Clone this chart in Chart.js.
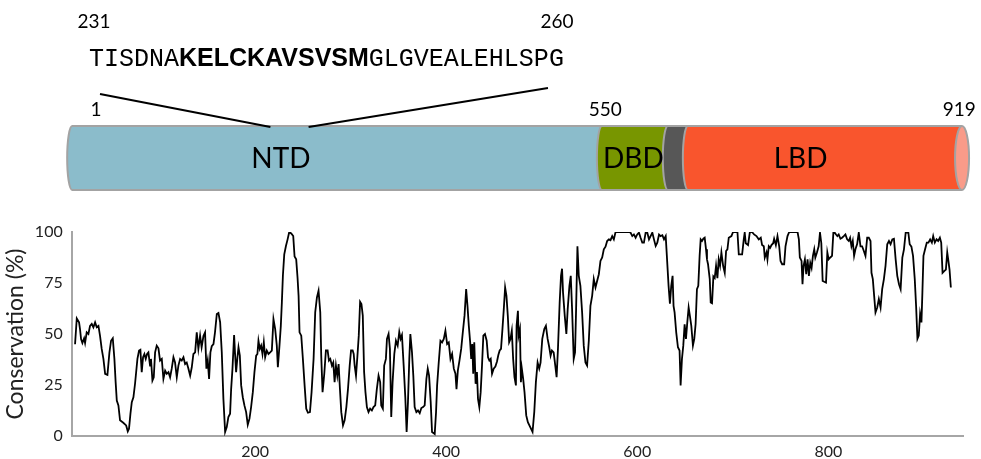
<!DOCTYPE html>
<html>
<head>
<meta charset="utf-8">
<script src="https://cdn.jsdelivr.net/npm/chart.js@4.4.1/dist/chart.umd.min.js"></script>
<style>
  html, body { margin: 0; padding: 0; background: #fff; }
  canvas { display: block; }
</style>
</head>
<body>
<canvas id="chart" width="981" height="459"></canvas>
<script>
// alignment position and conservation (%)
const position = [
  11.5, 13.3, 15.7, 16.7, 17.8, 19.2, 21, 22, 23.7, 25.5, 27.2, 29, 30.7, 32.5, 34.2, 36, 37.7, 39.4, 41.2, 43, 45.4, 47.5, 49.2, 51, 52.7, 54, 55.2, 56.9, 58.6, 62, 65, 66.7, 68, 69.5, 70.9, 72.6, 74.3, 76.8, 78.5, 79.9,
  81.3, 82.7, 84.1, 85.5, 86.9, 88.3, 90, 91, 92.5, 93.9, 95.3, 97, 98.8, 100.5, 102.3, 104, 105.8, 107.5, 109.3, 111, 112.7, 114.5, 116.2, 118, 119.7, 121.5, 123.2, 125, 126.7, 128.4, 130.2, 132, 133.7, 135.4, 137.2, 138.9, 140.6, 142.4, 144, 145.9,
  147.6, 149, 150.4, 151.8, 153.2, 154.6, 156.4, 158, 159.9, 161.6, 163.4, 165.1, 166.8, 168.6, 170.3, 172, 173.8, 174.9, 176.3, 178, 179.1, 180.1, 181.5, 182.6, 184, 185.4, 187.1, 188.8, 190.6, 192.3, 194.1, 195.8, 197.6, 199.3, 201.1, 202.4, 203.5, 204.9, 206.3, 207.7,
  209.1, 210.5, 212.2, 214, 215.7, 217.5, 219.2, 221, 222.7, 223.8, 225.5, 226.9, 228, 229.1, 230.5, 232.2, 234, 235.7, 237.8, 239.9, 241.3, 243, 244.4, 245.5, 246.5, 248.3, 250, 251.8, 253.5, 255.3, 257.4, 259.1, 261.2, 262.9, 264.7, 266.4, 268.2, 269.2, 270.6, 272.4,
  274.1, 275.9, 277.3, 278.7, 280.4, 281.8, 283.2, 284.6, 286, 287.4, 288.8, 290.2, 292, 293.7, 295.5, 297.2, 299, 300.4, 302.1, 303.2, 304.2, 305.6, 307, 308.5, 309.9, 311.3, 312.7, 314.1, 315.5, 317, 318.7, 320.4, 322.2, 323.9, 325.7, 327.4, 329.2, 330.9, 332, 333.7,
  335.1, 336.9, 338, 339.7, 341.1, 342.5, 343.9, 345.7, 347.4, 349.2, 350.9, 352.3, 353.7, 355.5, 357.2, 358.6, 360, 361.4, 362.5, 364.2, 365.6, 367, 368.8, 370.5, 372.3, 374, 375.8, 377.5, 379.3, 380.7, 382.1, 383.8, 385.2, 388, 389.4, 390.5, 392.2, 394, 395.7, 397.5,
  399.2, 401, 402.7, 404.5, 406.2, 408, 409.7, 410.8, 412.2, 413.9, 415.7, 417.4, 419.2, 420.9, 422.3, 423.7, 425.1, 426.2, 427.3, 428.3, 429.4, 430.8, 432.2, 433.3, 434.7, 436.1, 437.5, 438.9, 440.6, 442.4, 443.8, 445.2, 446.6, 448, 449.7, 451.5, 453.2, 454.6, 456, 457.4,
  458.9, 460.3, 461.7, 463.1, 464.5, 465.9, 467.3, 468.7, 470.1, 471.5, 473, 473.7, 475.1, 475.8, 477.2, 478.2, 479.2, 480.6, 482, 483.8, 485.5, 488, 490.4, 492.2, 493.9, 495.7, 497.4, 498.8, 500.6, 502.7, 504.4, 506.2, 507.9, 509.3, 510.7, 512.5, 514.2, 515.6, 517, 518.8,
  520.2, 521.3, 522.3, 524.1, 525.8, 527.2, 529, 530.4, 531.8, 533.5, 534.9, 536, 537.4, 538.8, 540.5, 542.3, 544, 545.8, 547.5, 549.3, 551, 552.8, 554.5, 556.3, 558, 559.8, 561.5, 563.3, 565, 566.8, 568.5, 570.3, 572, 573.8, 575.5, 577.3, 591.2, 593, 594.8, 596.5,
  598.3, 600, 601.8, 603.5, 605.3, 607, 608.8, 610.5, 612.3, 614, 615.8, 617.5, 619.3, 621, 622.8, 624.5, 626.3, 628, 629.8, 631, 632.8, 634.2, 635.6, 637, 638, 639.1, 640.8, 642.6, 644.3, 645.4, 646.8, 648.2, 649.6, 651, 652.4, 653.8, 655.2, 656.6, 658.3, 659.7,
  661.1, 662.5, 663.9, 665.3, 666.4, 667.8, 669.2, 670.6, 672, 673, 674.1, 675.9, 676.9, 678.3, 679.7, 681.1, 682.5, 683.9, 685.3, 686.7, 688.1, 689.9, 691.6, 693, 694.4, 695.8, 698.6, 700.3, 704.9, 706.3, 709.8, 711.5, 712.5, 713.6, 716, 717.8, 720.2, 722.3, 724.8, 727.2,
  729.3, 730.7, 732.5, 733.5, 735.3, 736.3, 737.7, 739.1, 740.5, 742.3, 743.3, 745.1, 746.8, 748.6, 750, 751.7, 753.8, 755.2, 757.3, 759.1, 767.8, 769.2, 770.2, 772, 773, 774.1, 775.5, 776.9, 778.3, 779.7, 781.1, 782.5, 783.9, 785.3, 786.4, 788.1, 789.9, 791.3, 792.7, 794.1,
  795.8, 797.6, 799, 800.4, 802.1, 803.9, 805.3, 806.7, 808.1, 809.5, 810.9, 812.7, 814.4, 816.2, 817.9, 819.7, 821.4, 822.8, 824.2, 825.6, 827, 828.4, 830.2, 831.9, 833.7, 835.4, 837.2, 838.9, 840.7, 842.4, 844.2, 845.2, 846.6, 848, 849.4, 851.2, 852.9, 854.7, 856.4, 858.2,
  859.9, 861.7, 863.5, 865.2, 867, 868.7, 870.5, 872.2, 874, 875.7, 877.5, 879.2, 881, 883.8, 885.2, 887, 888.7, 890.5, 891.9, 893.3, 894.7, 896.1, 897.5, 898.5, 899.6, 901.3, 903.1, 904.8, 906.6, 908.4, 909.8, 911.5, 913.3, 915, 916.8, 918.2, 919.6, 921.3, 923.1, 924.5,
  925.5, 926.9, 928.3
];
const conservation = [
  45, 57.6, 55.7, 52.4, 47.5, 45.6, 47.9, 45.6, 50.8, 50, 54, 55, 53.3, 55.7, 53.3, 54, 49, 42.7, 37.8, 30.5, 30, 41, 46.7, 47.9, 37.8, 26.4, 17.4, 15, 7.7, 6.5, 5.2, 2.3, 3.6, 11, 16.6, 19, 25.6, 37.8, 41.9, 42.3,
  31.3, 38.6, 40.2, 37.8, 40.2, 41, 34.5, 37.8, 27.2, 28.8, 41, 44.3, 43, 37, 37.8, 28, 32, 30.5, 31.3, 28.8, 33, 38.6, 36, 28.8, 34.5, 37.8, 37, 38.6, 35.3, 36, 33, 29.6, 33.7, 40.2, 41, 50.8, 42.7, 49.2, 43.5, 49,
  50.8, 33, 37, 28, 41, 44, 45, 50.8, 59.8, 60.3, 55.7, 41, 18.2, 2, 4.4, 9.3, 10.9, 23, 33, 49.5, 39.4, 31.3, 38.6, 43.5, 39.4, 24.8, 19, 15, 11.7, 5.5, 8.5, 14.2, 21.5, 31.3, 39.4, 40.2, 46.7, 42.7, 44.3, 40.2,
  46, 38.6, 41.9, 40.2, 41, 41.9, 57.3, 52.4, 44.3, 33.7, 44.3, 54, 65.5, 78.8, 89, 93, 96.4, 100, 99.3, 98, 88, 86.6, 77.7, 68.7, 50.8, 49.2, 37.8, 24.8, 13.4, 11.4, 11.7, 21.5, 37.8, 60.6, 67.9, 71.2, 60.6, 39.4, 21.5, 30.5,
  41.9, 41.9, 37, 37.8, 34.5, 36, 26.4, 34.5, 29.6, 35.3, 23, 11.7, 5.2, 7.7, 14.2, 23, 34.5, 41.9, 41.9, 40.2, 34.5, 29.6, 38.6, 49.2, 65.8, 64.7, 59, 31.3, 21.5, 14.2, 11.7, 13.4, 12.5, 14.2, 15, 23, 29.6, 26.4, 15, 13.4,
  34.5, 37.8, 47.6, 50, 42.7, 9.3, 26.4, 40.2, 46.7, 44.3, 51, 47.6, 49.5, 34.5, 19, 2, 16.6, 37.8, 50, 41, 29.6, 14.2, 11.7, 12.5, 11.2, 13.7, 14.2, 15, 28, 33, 29.6, 16.6, 2, 1, 11.7, 24.8, 36, 46.7, 45.9, 47.6,
  51.6, 45.1, 45.9, 37.8, 40.2, 33, 30.5, 23, 32, 37, 42.7, 50.8, 59, 72, 63.8, 54, 46, 37.8, 45.1, 30.5, 45.9, 25.6, 31.3, 18.2, 14.2, 21.5, 34.5, 49.2, 50, 46.7, 38.6, 37, 37.8, 30.5, 33, 34, 36.5, 39.7, 41.9, 42.7,
  52.4, 62.2, 72.8, 68.7, 59, 46, 47.6, 51.6, 37.8, 28.8, 24.8, 54, 61.4, 49.2, 52.4, 26.4, 33, 28, 21.5, 10.1, 6.8, 4.4, 2, 11.7, 26.4, 36, 33, 36, 47.6, 52.4, 54, 47.6, 43.5, 39.4, 41.9, 41, 34.5, 28.8, 42.7, 65.5,
  78.5, 82, 70.4, 59, 50, 62.2, 73.6, 78.5, 62.2, 37.8, 41, 62.2, 93, 78.5, 73.6, 60.6, 44.3, 36, 34.5, 46.7, 63.8, 68.7, 76.9, 72.8, 76, 79.3, 85.8, 87.5, 91.5, 92.8, 95.6, 96.4, 96, 98, 96.4, 100, 100, 99.7, 98, 98.8,
  97.2, 98.8, 99.7, 97.2, 94.8, 94.8, 99.7, 99.7, 96.4, 98, 99.7, 96.4, 93.2, 94.8, 98.8, 98, 98.4, 96.4, 98, 88.3, 73.6, 64.8, 73.6, 78.5, 63.8, 60.6, 50.8, 43.5, 41.9, 24.8, 37.8, 44.3, 54.7, 47.6, 55.7, 63, 58.6, 54, 44.3, 47.6,
  54.9, 72, 73.6, 88.3, 96.4, 95.6, 96.7, 97.2, 91.5, 86.6, 84.2, 76.9, 65.5, 65.1, 78.2, 77.4, 83.4, 77.4, 86.6, 83.4, 90, 83.4, 80, 90.7, 91.5, 97.2, 98, 100, 100, 89, 89, 96.4, 99.7, 94.5, 93.6, 99.7, 100, 98.8, 98, 96.4,
  97.2, 93.6, 93, 87.5, 90, 86.6, 93, 92.2, 93.6, 94.5, 96.7, 93.6, 98, 93, 85.8, 84.2, 84.2, 93, 98, 100, 100, 96.4, 87.5, 85.8, 74.4, 83.4, 86.6, 79.3, 86.6, 78.5, 84.9, 82.4, 88.3, 91.5, 87.5, 90, 93, 99.7, 94.5, 76,
  75.6, 75.2, 90, 86.6, 87.5, 88.3, 99.7, 99.7, 98.8, 98, 98.8, 96.7, 97.2, 98, 98.8, 96.4, 95.6, 97.2, 93, 95.6, 88.3, 91.5, 94.1, 99.7, 93, 93, 90.7, 88.3, 97.2, 97.2, 95.6, 80, 76.9, 68.7, 60.6, 63, 67.1, 63, 72, 76.9,
  83.4, 94, 95.6, 94, 96.4, 96.7, 86.6, 78.5, 74.4, 72, 87.5, 91.5, 99.7, 99.7, 94, 92.8, 88.3, 76.9, 63.8, 47.6, 49.2, 59.8, 55.7, 70.4, 88.3, 91.5, 94.8, 94.8, 96.4, 94.8, 98, 94.8, 96.4, 95.6, 97.2, 94.8, 80, 80.8, 81.6, 90,
  86.6, 81.6, 72.8
];

const xTicks = [200, 400, 600, 800];
const yTicks = [0, 25, 50, 75, 100];

// receptor domains, placed on the same position axis
const domainNames = ['NTD', 'DBD', '', 'LBD'];
const domainStart = [8.5, 563, 632, 653];
const domainEnd = [563, 632, 653, 940];
const domainColors = ['#8bbccb', '#789600', '#575757', '#f9552d'];
const domainLabelAt = [227, 596, 642, 771];

const residueLabels = ['1', '550', '919'];
const residueLabelAt = [33.5, 566.5, 937];

// zoomed region 231-260
const seqParts = ['TISDNA', 'KELCKAVSVSM', 'GLGVEALEHLSPG'];
const seqBold = [false, true, false];
const calloutAt = [216, 256];

const diagram = {
  id: 'diagram',
  afterDraw(chart) {
    const ctx = chart.ctx;
    const x = chart.scales.x;
    const top = 126, bottom = 190, mid = (top + bottom) / 2, ry = (bottom - top) / 2;
    ctx.save();
    ctx.lineWidth = 2;
    ctx.strokeStyle = '#a3a3a3';

    // cylinder segments, each with a rounded left end
    domainStart.forEach((s, i) => {
      const x0 = x.getPixelForValue(s);
      const x1 = x.getPixelForValue(domainEnd[i]) + (i < domainStart.length - 1 ? 6 : 0);
      const path = () => {
        ctx.beginPath();
        ctx.moveTo(x1, top);
        ctx.lineTo(x0, top);
        ctx.ellipse(x0, mid, 5, ry, 0, -Math.PI / 2, Math.PI / 2, true);
        ctx.lineTo(x1, bottom);
      };
      path();
      ctx.closePath();
      ctx.fillStyle = domainColors[i];
      ctx.fill();
      path();
      ctx.stroke();
    });

    // end cap
    const xe = x.getPixelForValue(domainEnd[domainEnd.length - 1]);
    ctx.beginPath();
    ctx.ellipse(xe, mid, 7, ry, 0, 0, Math.PI * 2);
    ctx.fillStyle = '#f99b89';
    ctx.fill();
    ctx.stroke();

    ctx.fillStyle = '#000';
    ctx.textAlign = 'center';
    ctx.textBaseline = 'middle';
    ctx.font = '28px Lato';
    domainNames.forEach((n, i) => {
      if (n) ctx.fillText(n, x.getPixelForValue(domainLabelAt[i]), mid + 1);
    });

    ctx.font = '19px Lato';
    residueLabels.forEach((t, i) => ctx.fillText(t, x.getPixelForValue(residueLabelAt[i]), 110));
    ctx.fillText('231', 94, 22);
    ctx.fillText('260', 557, 22);

    // sequence of the zoomed region
    ctx.textAlign = 'left';
    ctx.textBaseline = 'alphabetic';
    let sx = 89;
    seqParts.forEach((p, i) => {
      ctx.font = seqBold[i] ? 'bold 25px "Liberation Sans"' : '25px "Liberation Mono"';
      ctx.fillText(p, sx, 66);
      sx += ctx.measureText(p).width;
    });

    // callout lines
    ctx.strokeStyle = '#000';
    ctx.lineWidth = 2;
    ctx.beginPath();
    ctx.moveTo(100, 94);
    ctx.lineTo(x.getPixelForValue(calloutAt[0]), top + 1);
    ctx.moveTo(548, 88);
    ctx.lineTo(x.getPixelForValue(calloutAt[1]), top + 1);
    ctx.stroke();
    ctx.restore();
  }
};

new Chart(document.getElementById('chart'), {
  type: 'line',
  data: {
    datasets: [{
      data: position.map((p, i) => ({ x: p, y: conservation[i] })),
      borderColor: '#000',
      borderWidth: 1.8,
      pointRadius: 0,
      tension: 0,
      fill: false
    }]
  },
  options: {
    responsive: false,
    animation: false,
    devicePixelRatio: 1,
    layout: { padding: { top: 232, right: 18, left: 0, bottom: 0 } },
    plugins: { legend: { display: false }, tooltip: { enabled: false } },
    scales: {
      x: {
        type: 'linear',
        min: 8,
        max: 941,
        afterBuildTicks: s => { s.ticks = xTicks.map(v => ({ value: v })); },
        afterFit: s => { s.height = 23; },
        grid: { display: false, drawTicks: false },
        border: { color: '#a6a6a6', width: 2 },
        ticks: { color: '#222', font: { family: 'Lato', size: 16 }, padding: 6, maxRotation: 0 }
      },
      y: {
        min: 0,
        max: 100,
        afterBuildTicks: s => { s.ticks = yTicks.map(v => ({ value: v })); },
        afterFit: s => { s.width = 71.7; },
        grid: { display: false, drawTicks: false },
        border: { color: '#a6a6a6', width: 2 },
        ticks: { color: '#222', font: { family: 'Lato', size: 16 }, padding: 9 },
        title: {
          display: true,
          text: 'Conservation (%)',
          color: '#222',
          font: { family: 'Lato', size: 23 },
          padding: { top: 2, bottom: 0 }
        }
      }
    }
  },
  plugins: [diagram]
});
</script>
</body>
</html>
